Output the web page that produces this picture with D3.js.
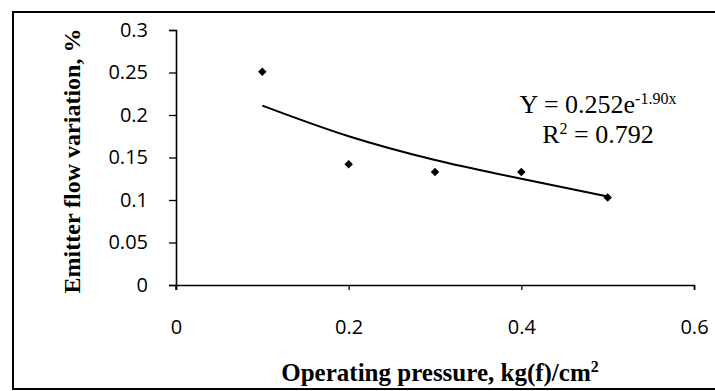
<!DOCTYPE html>
<html>
<head>
<meta charset="utf-8">
<script src="https://cdn.jsdelivr.net/npm/d3@7"></script>
<style>
  body { margin: 0; background: #fff; }
  svg { display: block; }
</style>
</head>
<body>
<div id="chart"></div>
<script>
// observed points
const pressure = [0.1, 0.2, 0.3, 0.4, 0.5]
const variation = [0.251, 0.142, 0.133, 0.133, 0.103]

// exponential trendline at the same pressures
const trendX = [0.1, 0.2, 0.3, 0.4, 0.5]
const trendY = [0.211, 0.175, 0.147, 0.125, 0.104]

const xTicks = [0, 0.2, 0.4, 0.6]
const yTicks = [0, 0.05, 0.1, 0.15, 0.2, 0.25, 0.3]

const W = 715, H = 391
const margin = {top:30, right:21, bottom:106, left:176}
const width = W - margin.left - margin.right
const height = H - margin.top - margin.bottom

const svg = d3.select("#chart")
    .append("svg")
    .attr("width", W)
    .attr("height", H)

// outer frame (right edge falls outside the picture)
svg.append("rect")
    .attr("x", 13).attr("y", 12)
    .attr("width", 740).attr("height", 377)
    .attr("fill", "none")
    .attr("stroke", "#000")
    .attr("stroke-width", 2)

const g = svg.append("g")
    .attr("transform", `translate(${margin.left},${margin.top})`)

const x = d3.scaleLinear().domain([0, 0.6]).range([0, width])
const y = d3.scaleLinear().domain([0, 0.3]).range([height, 0])

// axes
const yAxis = g.append("g")
    .call(d3.axisLeft(y).tickValues(yTicks).tickSize(7).tickPadding(21)
        .tickFormat(d => d3.format("")(+d.toFixed(2))))
const xAxis = g.append("g")
    .attr("transform", `translate(0,${height})`)
    .call(d3.axisBottom(x).tickValues(xTicks).tickSize(5).tickPadding(30)
        .tickFormat(d => d3.format("")(+d.toFixed(1))))

;[xAxis, yAxis].forEach(a => {
    a.select(".domain").attr("stroke", "#000").attr("stroke-width", 1.6)
    a.selectAll(".tick line").attr("stroke", "#000").attr("stroke-width", 1.3)
    a.selectAll("text")
        .attr("fill", "#000")
        .style("font-family", "'Open Sans', sans-serif")
        .style("font-size", "20px")
})
// small overhang of the y axis below zero, as in the picture
g.append("line")
    .attr("x1", 0).attr("x2", 0)
    .attr("y1", height).attr("y2", height + 5)
    .attr("stroke", "#000").attr("stroke-width", 1.3)

// trendline
const trend = trendX.map((v, i) => [v, trendY[i]])
g.append("path")
    .datum(trend)
    .attr("fill", "none")
    .attr("stroke", "#000")
    .attr("stroke-width", 2)
    .attr("d", d3.line().x(d => x(d[0])).y(d => y(d[1])).curve(d3.curveMonotoneX))

// points
g.selectAll(".pt")
    .data(pressure.map((v, i) => [v, variation[i]]))
    .join("path")
    .attr("class", "pt")
    .attr("transform", d => `translate(${x(d[0])},${y(d[1])})`)
    .attr("d", d3.symbol().type(d3.symbolDiamond2).size(46))
    .attr("fill", "#000")

// equation
const eq = g.append("text")
    .attr("x", 598 - margin.left)
    .attr("y", 113 - margin.top)
    .attr("text-anchor", "middle")
    .style("font-family", "'Liberation Serif', 'Times New Roman', serif")
    .style("font-size", "26px")
eq.append("tspan").text("Y = 0.252e")
eq.append("tspan").attr("dy", -9).style("font-size", "16px").text("-1.90x")

const r2 = g.append("text")
    .attr("x", 598 - margin.left)
    .attr("y", 143 - margin.top)
    .attr("text-anchor", "middle")
    .style("font-family", "'Liberation Serif', 'Times New Roman', serif")
    .style("font-size", "26px")
r2.append("tspan").text("R")
r2.append("tspan").attr("dy", -9).style("font-size", "16px").text("2")
r2.append("tspan").attr("dy", 9).text(" = 0.792")

// axis titles
svg.append("text")
    .attr("x", 440)
    .attr("y", 381)
    .attr("text-anchor", "middle")
    .style("font-family", "'Liberation Serif', 'Times New Roman', serif")
    .style("font-weight", "bold")
    .style("font-size", "25px")
    .call(t => {
        t.append("tspan").text("Operating pressure, kg(f)/cm")
        t.append("tspan").attr("dy", -9).style("font-size", "16px").text("2")
    })

svg.append("text")
    .attr("transform", "translate(80,161) rotate(-90)")
    .attr("text-anchor", "middle")
    .style("font-family", "'Liberation Serif', 'Times New Roman', serif")
    .style("font-weight", "bold")
    .style("font-size", "24px")
    .text("Emitter flow variation, %")
</script>
</body>
</html>
